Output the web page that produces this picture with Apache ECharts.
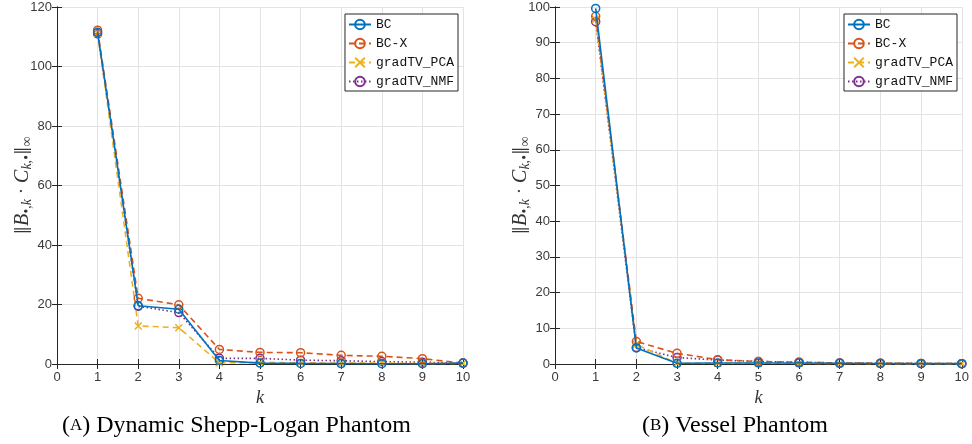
<!DOCTYPE html>
<html><head><meta charset="utf-8">
<script src="https://cdn.jsdelivr.net/npm/echarts@6/dist/echarts.min.js"></script>
<style>html,body{margin:0;padding:0;background:#fff}#c{width:972px;height:444px}</style>
</head><body><div id="c"></div>
<script>
const kValues = [1,2,3,4,5,6,7,8,9,10];
const seriesNames = ['BC','BC-X','gradTV_PCA','gradTV_NMF'];
// Panel A: Dynamic Shepp-Logan Phantom
const sheppBC   = [111.5, 19.6, 18.4, 1.2, 0.3, 0.2, 0.15, 0.1, 0.1, 0.3];
const sheppBCX  = [112.2, 22.1, 19.9, 4.9, 3.9, 3.8, 2.9, 2.6, 1.8, 0.3];
const sheppPCA  = [111.2, 12.8, 12.2, 0.4, 0.5, 0.4, 0.3, 0.3, 0.2, 0.2];
const sheppNMF  = [111.0, 19.4, 17.3, 1.9, 1.9, 1.3, 1.1, 0.8, 0.6, 0.3];
// Panel B: Vessel Phantom
const vesselBC  = [99.6, 4.5, 0.2, 0.3, 0.3, 0.3, 0.2, 0.15, 0.1, 0.1];
const vesselBCX = [97.4, 6.3, 3.0, 1.2, 0.7, 0.5, 0.3, 0.2, 0.15, 0.1];
const vesselPCA = [96.5, 5.5, 0.2, 0.2, 0.2, 0.2, 0.15, 0.1, 0.1, 0.1];
const vesselNMF = [95.9, 4.6, 1.8, 1.1, 0.7, 0.5, 0.3, 0.2, 0.15, 0.1];
const yTicksA = {min:0, max:120, interval:20};
const yTicksB = {min:0, max:100, interval:10};
const xTicks = {min:0, max:10, interval:1};
const captionTags = ['A','B'];
const captions = ['Dynamic Shepp-Logan Phantom','Vessel Phantom'];

const colors = ['#0072BD','#D95319','#EDB120','#7E2F8E'];
const styles = [
  {type:'solid', symbol:'circle'},
  {type:[6,4], symbol:'circle'},
  {type:[6,4], symbol:'path://M-1,-1L1,1M1,-1L-1,1'},
  {type:[1.5,2.5], symbol:'circle'}
];
const axisColor = '#262626';
const tickFont = {color:'#3a3a3a', fontFamily:'Liberation Sans, Arial, sans-serif', fontSize:13};

function mkSeries(vals, idx, gi){
  return {
    name: seriesNames[idx], type:'line', xAxisIndex:gi*2, yAxisIndex:gi*2,
    data: kValues.map((k,i)=>[k, vals[i]]),
    symbol: styles[idx].symbol, symbolSize: idx===2 ? 7 : 8,
    showSymbol:true,
    itemStyle:{color: idx===2 ? colors[idx] : 'rgba(255,255,255,0)', borderColor: colors[idx], borderWidth:1.5},
    lineStyle:{color: colors[idx], width:1.6, type: styles[idx].type},
    z: 10-idx, animation:false
  };
}
const grids = [
  {left:57, top:7, width:406, height:357},
  {left:555, top:7, width:408, height:357}
];
const yName = '{n|‖}{i|B}{s|•,k}{n| · }{i|C}{s|k,•}{n|‖}{s|∞}';
const yRich = {
  n:{fontFamily:'DejaVu Serif, serif', fontSize:17, color:'#333'},
  i:{fontFamily:'Liberation Serif, serif', fontStyle:'italic', fontSize:20, color:'#333'},
  s:{fontFamily:'Liberation Serif, serif', fontStyle:'italic', fontSize:14, color:'#333', verticalAlign:'bottom', padding:[8,0,0,0]}
};
const xAxes = [], yAxes = [];
[yTicksA, yTicksB].forEach((yt, gi)=>{
  xAxes.push({type:'value', gridIndex:gi, min:xTicks.min, max:xTicks.max, interval:xTicks.interval,
    name:'k', nameLocation:'middle', nameGap:24,
    nameTextStyle:{fontFamily:'Liberation Serif, serif', fontStyle:'italic', fontSize:18, color:'#333'},
    axisLine:{lineStyle:{color:axisColor}}, axisTick:{inside:true, length:5, lineStyle:{color:axisColor}},
    axisLabel:Object.assign({margin:7}, tickFont),
    splitLine:{show:true, lineStyle:{color:'#e3e3e3'}}});
  xAxes.push({type:'value', gridIndex:gi, position:'top', min:xTicks.min, max:xTicks.max, interval:xTicks.interval,
    axisLine:{show:true, lineStyle:{color:axisColor}}, axisTick:{inside:true, length:5, lineStyle:{color:axisColor}},
    axisLabel:{show:false}, splitLine:{show:false}});
  yAxes.push({type:'value', gridIndex:gi, min:yt.min, max:yt.max, interval:yt.interval,
    name:yName, nameLocation:'middle', nameGap:23, nameRotate:90, nameMoveOverlap:false,
    nameTextStyle:{rich:yRich},
    axisLine:{show:true, lineStyle:{color:axisColor}}, axisTick:{show:true, inside:true, length:5, lineStyle:{color:axisColor}},
    axisLabel:Object.assign({margin:5}, tickFont),
    splitLine:{show:true, lineStyle:{color:'#e3e3e3'}}});
  yAxes.push({type:'value', gridIndex:gi, position:'right', min:yt.min, max:yt.max, interval:yt.interval,
    axisLine:{show:true, lineStyle:{color:axisColor}}, axisTick:{show:true, inside:true, length:5, lineStyle:{color:axisColor}},
    axisLabel:{show:false}, splitLine:{show:false}});
});
const series = [];
[sheppBC, sheppBCX, sheppPCA, sheppNMF].forEach((v,i)=>series.push(mkSeries(v,i,0)));
[vesselBC, vesselBCX, vesselPCA, vesselNMF].forEach((v,i)=>series.push(mkSeries(v,i,1)));

const legendBase = {
  orient:'vertical', data:seriesNames, itemWidth:22, itemHeight:12, itemGap:6,
  backgroundColor:'#fff', borderColor:axisColor, borderWidth:1, borderRadius:0,
  padding:[4,4,3,3], top:14,
  textStyle:{fontFamily:'"Liberation Mono", "Courier New", monospace', fontSize:13, color:'#111'},
  selectedMode:false
};
const legends = [
  Object.assign({}, legendBase, {right:514}),
  Object.assign({}, legendBase, {right:15})
];
const capRich = {
  p:{fontFamily:'Liberation Serif, serif', fontSize:24, color:'#222'},
  sc:{fontFamily:'Liberation Serif, serif', fontSize:17, color:'#222'}
};
const chart = echarts.init(document.getElementById('c'), null, {renderer:'canvas'});
chart.setOption({
  animation:false, color:colors,
  grid:grids, xAxis:xAxes, yAxis:yAxes, series:series, legend:legends,
  graphic:[0,1].map(j=>({type:'text', left:[62,642][j], top:414,
    style:{text:'{p|(}{sc|'+captionTags[j]+'}{p|) '+captions[j]+'}', rich:capRich}}))
});
</script></body></html>
